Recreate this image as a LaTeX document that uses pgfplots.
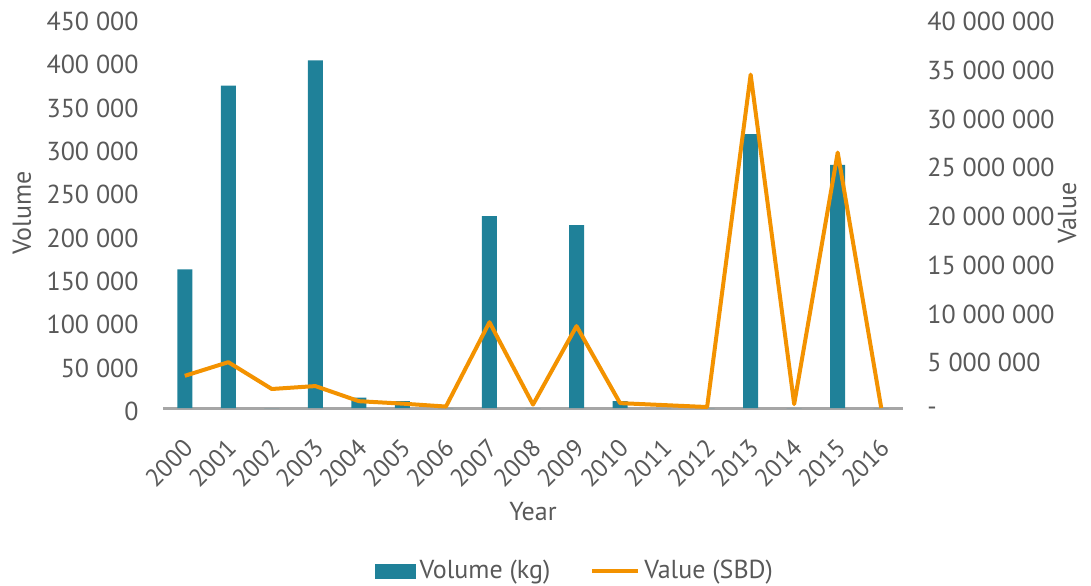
\documentclass[border=0pt]{standalone}
\usepackage{pgfplots}
\pgfplotsset{compat=1.18}
\usepackage{fontspec}
\setmainfont{PT Sans}
\definecolor{barteal}{HTML}{1F8199}
\definecolor{lineor}{HTML}{F39200}
\definecolor{txt}{HTML}{595959}
\definecolor{axgrey}{HTML}{A6A6A6}
\pgfplotsset{
  every tick label/.append style={text=txt, inner sep=0pt},
  every axis label/.append style={text=txt},
}
\begin{document}
\begin{tikzpicture}[font=\fontsize{13}{15}\selectfont]
\useasboundingbox (-81.5pt,-88.5pt) rectangle (464pt,204pt);
\begin{axis}[
  width=370pt, height=195pt, scale only axis,
  xmin=-0.5, xmax=16.5, ymin=0, ymax=450000,
  axis x line*=bottom, axis y line*=left,
  axis line style={-},
  x axis line style={axgrey, line width=1.5pt},
  y axis line style={draw=none},
  major tick length=0,
  xtick={0,1,2,3,4,5,6,7,8,9,10,11,12,13,14,15,16},
  xticklabels={2000,2001,2002,2003,2004,2005,2006,2007,2008,2009,2010,2011,2012,2013,2014,2015,2016},
  xticklabel style={xshift=-1.5pt, yshift=-14.5pt, rotate=45, anchor=north east, font=\fontsize{12.5}{14}\selectfont},
  ytick={0,50000,100000,150000,200000,250000,300000,350000,400000,450000},
  yticklabels={0,50 000,100 000,150 000,200 000,250 000,300 000,350 000,400 000,450 000},
  yticklabel style={anchor=east, xshift=-12pt, yshift=-1.75pt},
  scaled y ticks=false,
  xlabel={Year},
  xlabel style={at={(axis description cs:0.5,-0.266)}, anchor=center},
  ylabel={Volume},
  ylabel style={at={(axis description cs:-0.1905,0.5)}, anchor=center},
  ybar, bar width=7.5pt,
]
\addplot[fill=barteal, draw=none] coordinates {
(0,160000) (1,372000) (2,0) (3,401000) (4,12000) (5,8000) (6,0) (7,221500)
(8,0) (9,211000) (10,8000) (11,0) (12,0) (13,316000) (14,0) (15,280500) (16,0)};
\end{axis}
\begin{axis}[
  width=370pt, height=195pt, scale only axis,
  xmin=-0.5, xmax=16.5, ymin=0, ymax=40000000,
  axis x line=none,
  axis y line*=right,
  axis line style={-},
  y axis line style={draw=none},
  major tick length=0,
  ytick={0,5000000,10000000,15000000,20000000,25000000,30000000,35000000,40000000},
  yticklabels={-,5 000 000,10 000 000,15 000 000,20 000 000,25 000 000,30 000 000,35 000 000,40 000 000},
  yticklabel style={anchor=west, xshift=12pt, yshift=-1.75pt},
  scaled y ticks=false,
  ylabel={Value},
  ylabel style={at={(axis description cs:1.222,0.5)}, anchor=center},
  clip=false,
  legend style={at={(axis description cs:0.558,-0.418)}, anchor=center, draw=none, fill=none,
    legend columns=2, text=txt, font=\fontsize{13}{15}\selectfont,
    /tikz/every even column/.append style={column sep=18pt}},
]
\addlegendimage{legend image code/.code={\fill[barteal] (0pt,-3.5pt) rectangle (20pt,3.5pt);}}
\addlegendentry{Volume (kg)}
\addplot[lineor, line width=2pt, line join=round,
  legend image code/.code={\draw[lineor, line width=2pt] (0pt,0pt) -- (23pt,0pt);}] coordinates {
(0,3300000) (1,4700000) (2,1950000) (3,2250000) (4,700000) (5,450000) (6,150000)
(7,8800000) (8,350000) (9,8400000) (10,500000) (11,300000) (12,100000)
(13,34200000) (14,400000) (15,26200000) (16,0)};
\addlegendentry{Value (SBD)}
\end{axis}
\end{tikzpicture}
\end{document}
